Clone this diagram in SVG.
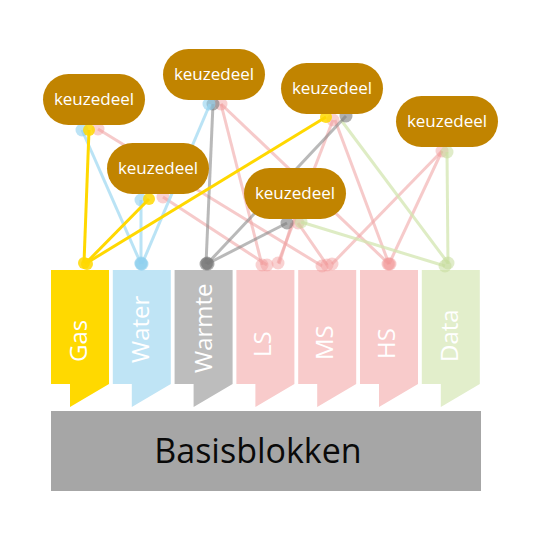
<svg xmlns="http://www.w3.org/2000/svg" width="540" height="540" viewBox="0 0 540 540">
<style>
.col-label{font-family:"Open Sans","Liberation Sans",sans-serif;font-size:24px;fill:#ffffff}
.node rect{fill:#c18400}
.node text{font-family:"Open Sans","Liberation Sans",sans-serif;font-size:17px;fill:#ffffff;text-anchor:middle}
.base text{font-family:"Open Sans","Liberation Sans",sans-serif;font-size:34px;fill:#0a0a0a;text-anchor:middle}
.c line{stroke-width:3;fill:none}
.y line{stroke:#ffd800}
.y circle{fill:#ffd800;fill-opacity:0.85}
.b line{stroke:#a9dcf2;stroke-opacity:0.8}
.b circle{fill:#8fd0ef;fill-opacity:0.6}
.g line{stroke:#8a8a8a;stroke-opacity:0.6}
.g circle{fill:#7a7a7a;fill-opacity:0.6}
.p line{stroke:#f0a6a6;stroke-opacity:0.6}
.p circle{fill:#f19a9a;fill-opacity:0.45}
.gr line{stroke:#d3e5b0;stroke-opacity:0.75}
.gr circle{fill:#c6dd9c;fill-opacity:0.55}
</style>
<rect width="540" height="540" fill="#ffffff"/>

<g id="basisblokken" class="base">
<rect x="51" y="411" width="430" height="80" fill="#a6a6a6"/>
<text x="258" y="463">Basisblokken</text>
</g>

<g id="col-gas">
<polygon points="51,270 109,270 109,384 70,407 70,384 51,384" fill="#ffd900"/>
<text class="col-label" transform="translate(87,362) rotate(-90)">Gas</text>
</g>
<g id="col-water">
<polygon points="112.8,270 170.8,270 170.8,384 131.8,407 131.8,384 112.8,384" fill="#bfe4f5"/>
<text class="col-label" transform="translate(149,363) rotate(-90)">Water</text>
</g>
<g id="col-warmte">
<polygon points="174.6,270 232.6,270 232.6,384 193.6,407 193.6,384 174.6,384" fill="#bdbdbd"/>
<text class="col-label" transform="translate(212,373) rotate(-90)">Warmte</text>
</g>
<g id="col-ls">
<polygon points="236.4,270 294.4,270 294.4,384 255.4,407 255.4,384 236.4,384" fill="#f8cbcb"/>
<text class="col-label" transform="translate(271,357) rotate(-90)">LS</text>
</g>
<g id="col-ms">
<polygon points="298.2,270 356.2,270 356.2,384 317.2,407 317.2,384 298.2,384" fill="#f8cbcb"/>
<text class="col-label" transform="translate(333,360) rotate(-90)">MS</text>
</g>
<g id="col-hs">
<polygon points="360,270 418,270 418,384 379,407 379,384 360,384" fill="#f8cbcb"/>
<text class="col-label" transform="translate(395,359) rotate(-90)">HS</text>
</g>
<g id="col-data">
<polygon points="421.8,270 479.8,270 479.8,384 440.8,407 440.8,384 421.8,384" fill="#e2eecb"/>
<text class="col-label" transform="translate(458,362) rotate(-90)">Data</text>
</g>

<g id="connectors" class="c">
<g class="p">
<line x1="98" y1="129" x2="322" y2="266"/>
<line x1="221" y1="104" x2="262" y2="265"/>
<line x1="221" y1="104" x2="389" y2="264"/>
<line x1="163" y1="197" x2="267" y2="265"/>
<line x1="333" y1="120" x2="278" y2="263"/>
<line x1="335" y1="120" x2="389" y2="264"/>
<line x1="442" y1="151" x2="332" y2="264"/>
<line x1="442" y1="151" x2="389" y2="264"/>
<line x1="292" y1="223" x2="279" y2="264"/>
<line x1="298" y1="223" x2="327" y2="265"/>
<circle cx="98" cy="129" r="6.5"/><circle cx="322" cy="266" r="6.5"/>
<circle cx="221" cy="104" r="6.5"/><circle cx="262" cy="265" r="6.5"/>
<circle cx="389" cy="264" r="6.5"/>
<circle cx="163" cy="197" r="6.5"/><circle cx="267" cy="265" r="6.5"/>
<circle cx="333" cy="120" r="6.5"/><circle cx="278" cy="263" r="6.5"/>
<circle cx="390" cy="264" r="6.5"/>
<circle cx="442" cy="151" r="6.5"/><circle cx="332" cy="264" r="6.5"/>
<circle cx="388" cy="264" r="6.5"/>
<circle cx="298" cy="223" r="6.5"/><circle cx="327" cy="265" r="6.5"/>
</g>
<g class="gr">
<line x1="341" y1="120" x2="448" y2="263"/>
<line x1="447" y1="152" x2="448" y2="264"/>
<line x1="301" y1="222" x2="445" y2="266"/>
<circle cx="447" cy="152" r="6.5"/><circle cx="448" cy="263" r="6.5"/>
<circle cx="301" cy="222" r="6.5"/><circle cx="445" cy="266" r="6.5"/>
</g>
<g class="g">
<line x1="213" y1="104" x2="206" y2="264"/>
<line x1="346" y1="116" x2="207" y2="264"/>
<line x1="287" y1="223" x2="207" y2="264"/>
<circle cx="213" cy="104" r="6.5"/><circle cx="346" cy="116" r="6.5"/>
<circle cx="287" cy="223" r="6.5"/>
<circle cx="206" cy="264" r="6.5"/><circle cx="208" cy="264" r="6.5"/><circle cx="207" cy="263" r="6.5"/>
</g>
<g class="b">
<line x1="82" y1="130" x2="141" y2="264"/>
<line x1="210" y1="104" x2="142" y2="264"/>
<line x1="141" y1="200" x2="141" y2="264"/>
<circle cx="82" cy="130" r="6.5"/><circle cx="209" cy="104" r="6.5"/><circle cx="141" cy="200" r="6.5"/>
<circle cx="141" cy="264" r="6.5"/><circle cx="142" cy="264" r="6.5"/><circle cx="141" cy="263" r="6.5"/>
</g>
<g class="y">
<line x1="89" y1="130" x2="84" y2="263"/>
<line x1="149" y1="199" x2="86" y2="263"/>
<line x1="326" y1="117" x2="85" y2="264"/>
<circle cx="89" cy="130" r="6"/><circle cx="149" cy="199" r="6"/><circle cx="326" cy="117" r="6"/>
<circle cx="84" cy="263" r="6"/><circle cx="87" cy="264" r="6"/>
</g>
</g>

<g id="node1" class="node"><rect x="43" y="74" width="102" height="51" rx="25.5"/><text x="94" y="105">keuzedeel</text></g>
<g id="node2" class="node"><rect x="163" y="49" width="102" height="51" rx="25.5"/><text x="214" y="80">keuzedeel</text></g>
<g id="node3" class="node"><rect x="107" y="143" width="102" height="51" rx="25.5"/><text x="158" y="174">keuzedeel</text></g>
<g id="node4" class="node"><rect x="281" y="63" width="102" height="51" rx="25.5"/><text x="332" y="94">keuzedeel</text></g>
<g id="node5" class="node"><rect x="396" y="96" width="102" height="51" rx="25.5"/><text x="447" y="127">keuzedeel</text></g>
<g id="node6" class="node"><rect x="244" y="168" width="102" height="51" rx="25.5"/><text x="295" y="199">keuzedeel</text></g>
</svg>
